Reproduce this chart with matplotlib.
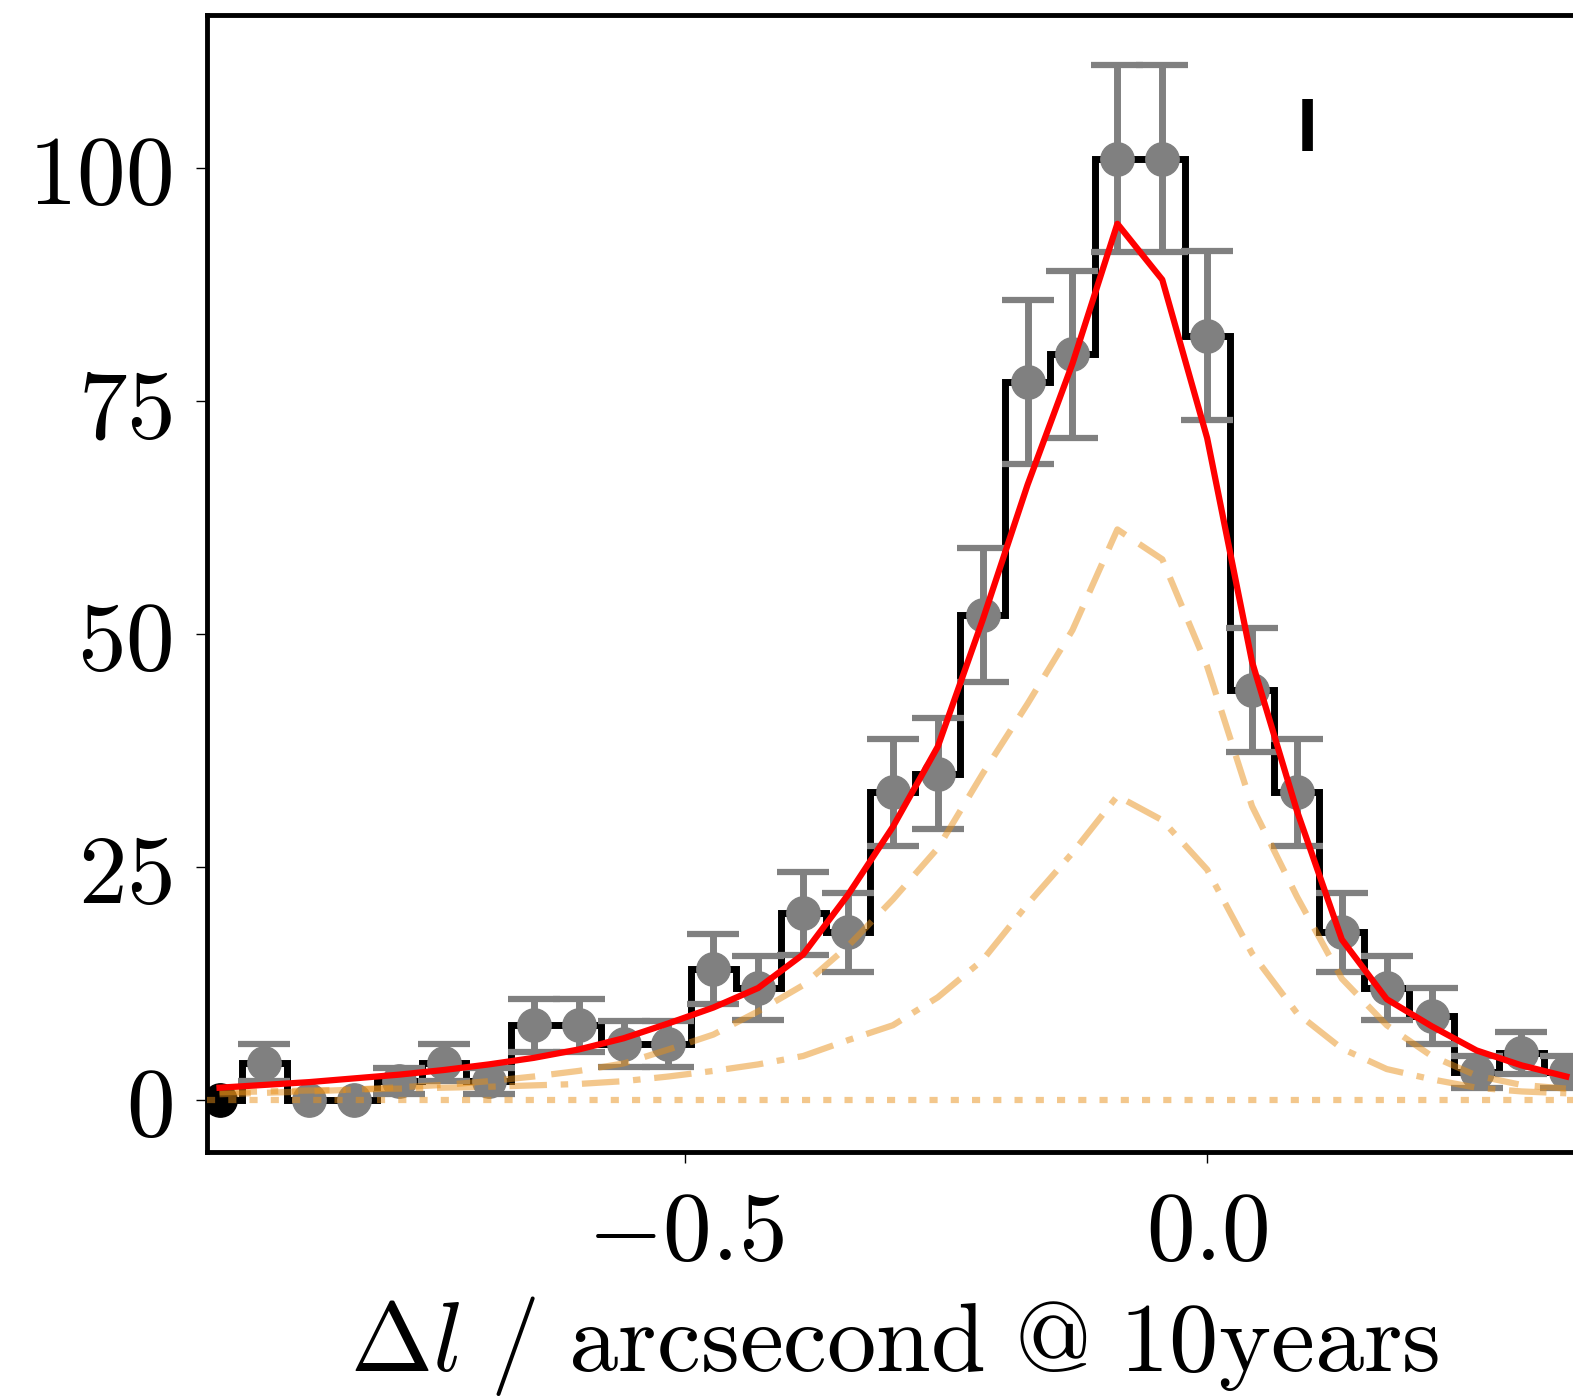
import matplotlib
matplotlib.use("Agg")
import matplotlib.pyplot as plt
import numpy as np

# ---- data ----
bin_centers = [-0.946, -0.903, -0.860, -0.817, -0.774, -0.731, -0.688, -0.645,
               -0.602, -0.559, -0.516, -0.473, -0.430, -0.387, -0.344, -0.301,
               -0.258, -0.215, -0.172, -0.129, -0.086, -0.043, 0.000, 0.043,
               0.086, 0.129, 0.172, 0.215, 0.258, 0.301, 0.344]
counts = [0, 4, 0, 0, 2, 4, 2, 8, 8, 6, 6, 14, 12, 20, 18, 33, 35, 52, 77, 80,
          101, 101, 82, 44, 33, 18, 12, 9, 3, 5, 3]
model_total = [1.3, 1.6, 1.9, 2.3, 2.7, 3.2, 3.8, 4.5, 5.4, 6.6, 8.2, 9.9, 12.0,
               15.6, 22.0, 29.3, 37.9, 51.5, 66.0, 79.0, 94.0, 88.0, 71.0, 47.0,
               31.0, 17.2, 10.8, 7.9, 5.3, 3.7, 2.5]
model_comp1 = [0.6, 0.75, 0.9, 1.1, 1.35, 1.6, 2.0, 2.5, 3.1, 3.9, 5.4, 7.0, 9.5,
               12.3, 16.5, 21.5, 27.0, 35.0, 42.5, 50.4, 61.2, 58.0, 46.5, 31.5,
               21.8, 13.0, 8.0, 4.7, 2.6, 1.6, 1.2]
model_comp2 = [0.8, 0.9, 1.0, 1.1, 1.2, 1.3, 1.4, 1.55, 1.7, 2.0, 2.5, 3.1, 3.8,
               4.7, 6.4, 8.0, 11.0, 15.0, 21.0, 26.5, 32.6, 30.0, 24.7, 15.7,
               9.3, 5.5, 3.3, 2.2, 1.3, 0.9, 0.7]
background_level = 0.0
x_ticks = [-0.5, 0.0]
x_tick_labels = [r"$-0.5$", r"$0.0$"]
y_ticks = [0, 25, 50, 75, 100]
y_tick_labels = [r"$0$", r"$25$", r"$50$", r"$75$", r"$100$"]
panel_label = "I"

plt.rcParams["mathtext.fontset"] = "cm"

W, H = 1573, 1398
fig = plt.figure(figsize=(W / 100, H / 100), dpi=100)
ax = fig.add_axes([207 / W, 1 - 1152 / H, (1583 - 207) / W, (1152 - 15) / H])

x = np.array(bin_centers)
n = np.array(counts, dtype=float)

orange = "#e8901a"
oalpha = 0.5

# histogram as steps
ax.plot(x, n, drawstyle="steps-mid", color="black", lw=5, zorder=2,
        solid_joinstyle="miter")

# error bars (only non-zero counts)
mask = n > 0
ax.errorbar(x[mask], n[mask], yerr=np.sqrt(n[mask]), fmt="o", color="gray",
            ecolor="gray", markersize=24, elinewidth=5, capsize=19,
            capthick=4.5, zorder=3)
ax.plot(x[~mask][1:], n[~mask][1:], "o", color="gray", markersize=24, zorder=3)
ax.plot(x[0], n[0], "o", color="black", markersize=24, zorder=3)

# model curves
ax.plot(x, model_total, color="red", lw=4.5, zorder=5)
ax.plot(x, model_comp1, color=orange, alpha=oalpha, lw=4.5,
        linestyle=(0, (5.0, 2.6)), zorder=4)
ax.plot(x, model_comp2, color=orange, alpha=oalpha, lw=4.5,
        linestyle=(0, (6.0, 2.2, 1.2, 2.2)), zorder=4)
ax.axhline(background_level, color=orange, alpha=oalpha, lw=4.5,
           linestyle=(0, (1.3, 2.1)), zorder=4)

ax.text(0.0958, 103.9, panel_label, fontsize=52, fontweight="bold",
        family=["Roboto", "DejaVu Sans"], ha="center", va="center")

ax.set_xlim(-0.958, 0.360)
ax.set_ylim(-5.6, 116.4)
ax.set_xticks(x_ticks)
ax.set_xticklabels(x_tick_labels)
ax.set_yticks(y_ticks)
ax.set_yticklabels(y_tick_labels)
ax.tick_params(axis="both", labelsize=70, length=8, width=1, direction="out")
ax.tick_params(axis="x", pad=17)
ax.tick_params(axis="y", pad=17)

for s in ax.spines.values():
    s.set_linewidth(3.5)

ax.set_xlabel(r"$\Delta l\ /\ \mathrm{arcsecond\ @\ 10years}$", fontsize=71,
              labelpad=10)

fig.savefig("out.png", dpi=100)
